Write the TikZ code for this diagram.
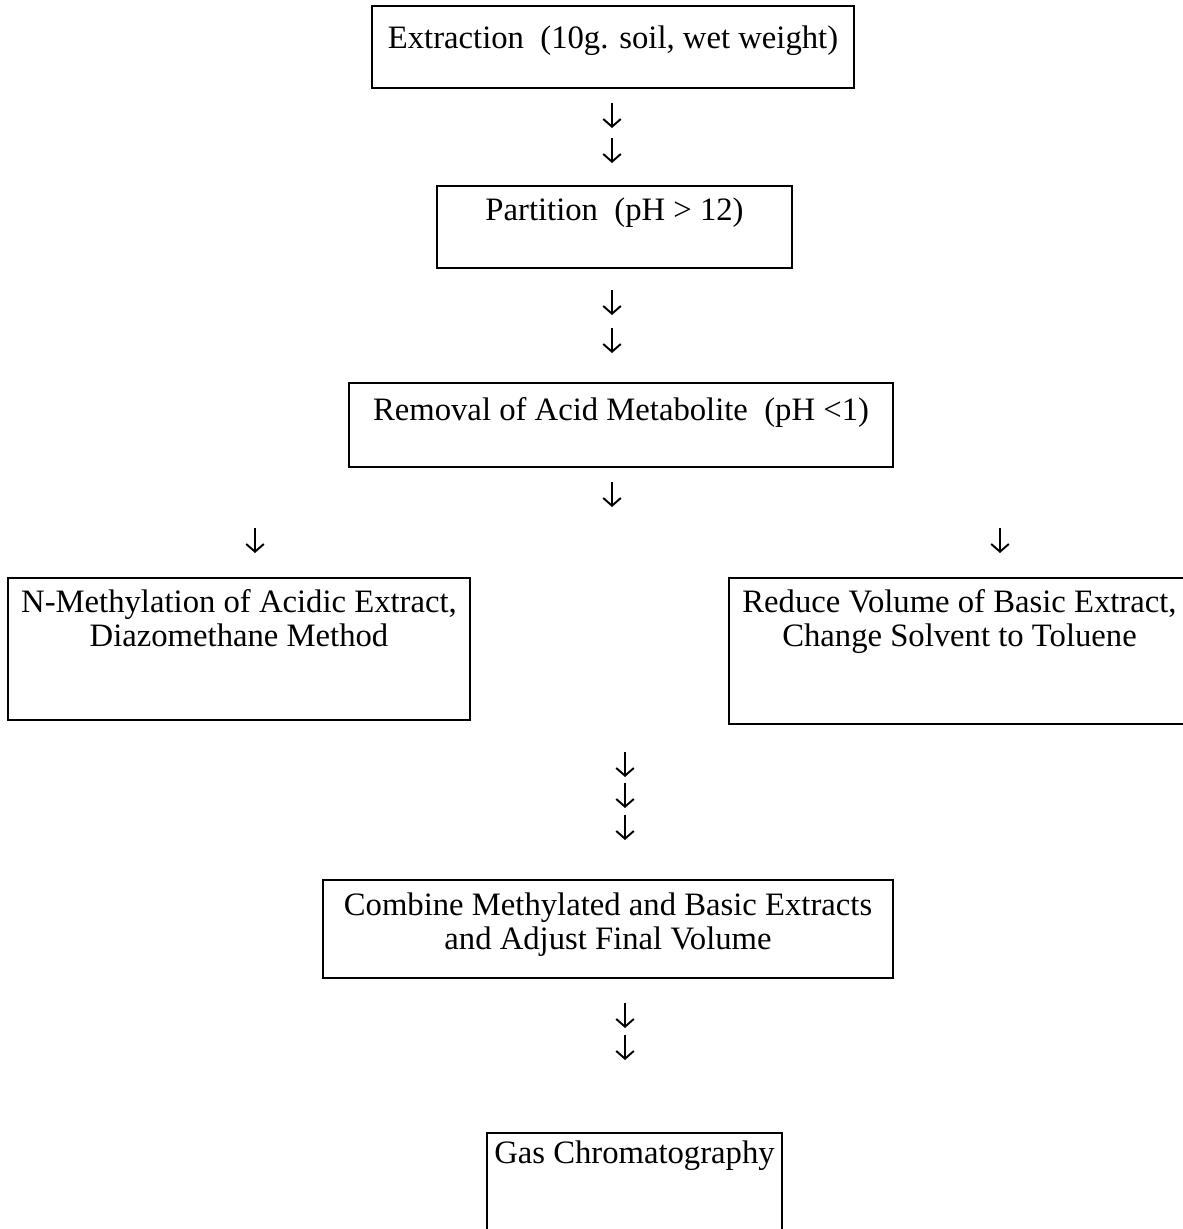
\documentclass[tikz,border=0pt]{standalone}
\usepackage{fontspec}
\setmainfont{Liberation Serif}
\usetikzlibrary{arrows.meta}

\begin{document}
\begin{tikzpicture}[x=1cm, y=1cm]
\tikzset{ >={Straight Barb[length=2.2pt,width=5pt]},
  stepbox/.style={draw, line width=0.75pt, inner sep=0pt},
  steptext/.style={anchor=north, inner sep=0pt, align=center,
                   font=\fontsize{9.3}{9.8}\selectfont},
  dnarrow/.style={->, line width=0.55pt},
}

\useasboundingbox (0,0) rectangle (11.83,-12.29);

%\draw [lightgray, dashed](0,0) grid (11.83,-12.29);

% boxes
\node [stepbox, minimum width=4.82cm, minimum height=0.82cm] (ext)  at (6.13,-0.47)  {};
\node [stepbox, minimum width=3.55cm, minimum height=0.82cm] (part) at (6.145,-2.27) {};
\node [stepbox, minimum width=5.44cm, minimum height=0.84cm] (rem)  at (6.21,-4.25)  {};
\node [stepbox, minimum width=4.62cm, minimum height=1.42cm] (meth) at (2.39,-6.49)  {};
\node [stepbox, minimum width=4.61cm, minimum height=1.46cm] (red)  at (9.595,-6.51) {};
\node [stepbox, minimum width=5.70cm, minimum height=0.98cm] (comb) at (6.08,-9.29)  {};
\node [stepbox, minimum width=2.95cm, minimum height=1.07cm] (gc)   at (6.345,-11.865) {};

% texts
\node [steptext] (extT)  at ([yshift=-0.20cm]ext.north)  {Extraction~ (10g. soil, wet weight)};
\node [steptext] (partT) at ([yshift=-0.12cm]part.north) {Partition~ (pH > 12)};
\node [steptext] (remT)  at ([yshift=-0.15cm]rem.north)  {Removal of Acid Metabolite~ (pH <1)};
\node [steptext] (methT) at ([yshift=-0.12cm]meth.north) {N-Methylation of Acidic Extract,\\ Diazomethane Method};
\node [steptext] (redT)  at ([yshift=-0.12cm]red.north)  {Reduce Volume of Basic Extract,\\ Change Solvent to Toluene};
\node [steptext] (combT) at ([yshift=-0.13cm]comb.north) {Combine Methylated and Basic Extracts\\ and Adjust Final Volume};
\node [steptext] (gcT)   at ([yshift=-0.08cm]gc.north)   {Gas Chromatography};

% little down arrows
\foreach \x/\y in {6.12/1.03, 6.12/1.38, 6.12/2.90, 6.12/3.28, 6.12/4.82,
                   2.55/5.28, 10.00/5.28,
                   6.25/7.52, 6.25/7.83, 6.25/8.15,
                   6.25/10.03, 6.25/10.35}
  \draw [dnarrow] (\x,-\y) -- ++(0,-0.25);

\end{tikzpicture}
\end{document}
